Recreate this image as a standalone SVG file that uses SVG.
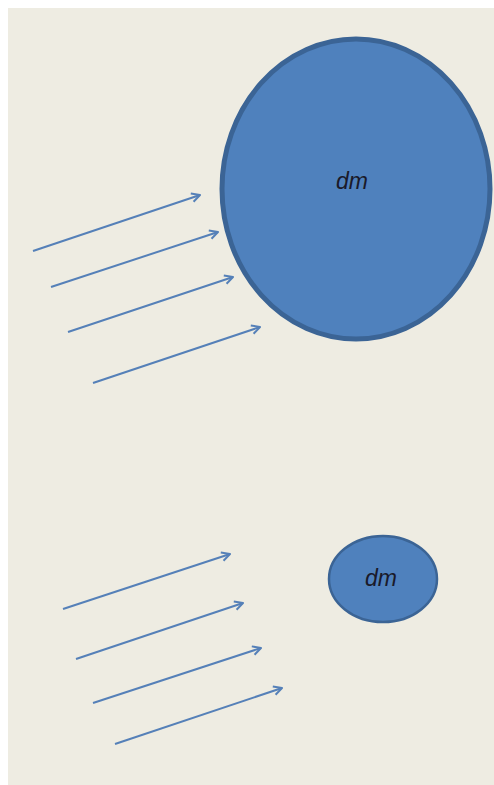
<svg xmlns="http://www.w3.org/2000/svg" width="494" height="785" viewBox="0 0 494 785">
<style>
.arr{stroke:#5580B8;stroke-width:2;fill:none;marker-end:url(#ah)}
.lbl{font-family:"Liberation Sans",Arial,sans-serif;font-style:italic;font-size:23px;fill:#1a1a2a;text-anchor:middle;dominant-baseline:central}
</style>
<defs>
<marker id="ah" viewBox="0 0 10 10" refX="9" refY="5" markerWidth="11" markerHeight="11" orient="auto" markerUnits="userSpaceOnUse">
<path d="M1.5,1 L9,5 L1.5,9" fill="none" stroke="#5580B8" stroke-width="1.8" stroke-linejoin="round"/>
</marker>
</defs>
<rect x="0" y="0" width="494" height="785" fill="#ffffff"/>
<rect x="8" y="8" width="486" height="777" fill="#EEECE2"/>
<g id="big">
<ellipse cx="356" cy="189" rx="134" ry="150" fill="#4F81BD" stroke="#3B6495" stroke-width="5"/>
<text class="lbl" x="352" y="181">dm</text>
</g>
<g id="small">
<ellipse cx="383" cy="579" rx="54" ry="43" fill="#4F81BD" stroke="#3B6495" stroke-width="2.5"/>
<text class="lbl" x="381" y="578">dm</text>
</g>
<g id="connectors">
<line class="arr" x1="33" y1="251" x2="200" y2="195"/>
<line class="arr" x1="51" y1="287" x2="218" y2="232"/>
<line class="arr" x1="68" y1="332" x2="233" y2="277"/>
<line class="arr" x1="93" y1="383" x2="260" y2="327"/>
<line class="arr" x1="63" y1="609" x2="230" y2="554"/>
<line class="arr" x1="76" y1="659" x2="243" y2="603"/>
<line class="arr" x1="93" y1="703" x2="261" y2="648"/>
<line class="arr" x1="115" y1="744" x2="282" y2="688"/>
</g>
</svg>
